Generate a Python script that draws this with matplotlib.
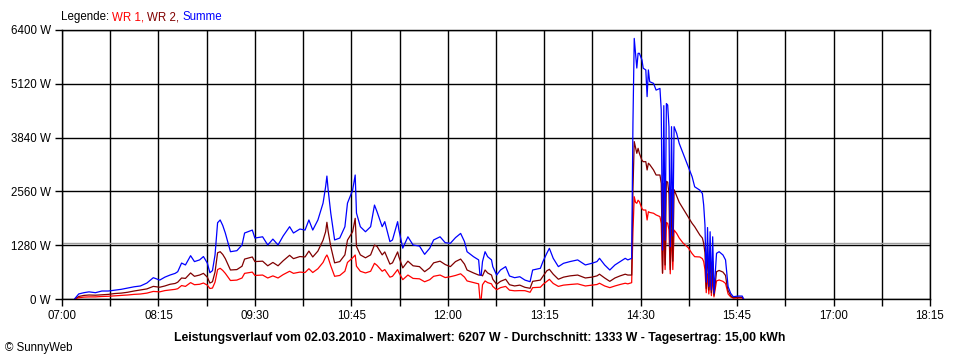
import numpy as np
import matplotlib.pyplot as plt

plt.rcParams['font.family'] = ['Liberation Sans', 'DejaVu Sans']

# Zeitpunkte (HH:MM) und Leistung in W
times = [
    "07:10", "07:13", "07:17", "07:21", "07:26", "07:31", "07:36", "07:41", "07:46", "07:51",
    "07:56", "08:01", "08:06", "08:11", "08:16", "08:20", "08:24", "08:28", "08:30", "08:33",
    "08:36", "08:40", "08:43", "08:47", "08:50", "08:53", "08:55", "08:57", "08:59", "09:01",
    "09:03", "09:05", "09:07", "09:11", "09:16", "09:20", "09:22", "09:28", "09:30", "09:36",
    "09:40", "09:44", "09:48", "09:52", "09:57", "10:00", "10:05", "10:09", "10:12", "10:15",
    "10:19", "10:23", "10:25", "10:26", "10:27", "10:29", "10:32", "10:36", "10:40", "10:42",
    "10:46", "10:48", "10:49", "10:52", "10:56", "11:00", "11:03", "11:05", "11:09", "11:11",
    "11:15", "11:17", "11:21", "11:22", "11:25", "11:29", "11:33", "11:38", "11:42", "11:46",
    "11:49", "11:54", "11:58", "12:02", "12:06", "12:10", "12:13", "12:15", "12:20", "12:24",
    "12:25", "12:26", "12:27", "12:29", "12:31", "12:34", "12:35", "12:38", "12:41", "12:45",
    "12:48", "12:52", "12:56", "13:00", "13:04", "13:06", "13:12", "13:14", "13:17", "13:19",
    "13:22", "13:26", "13:30", "13:35", "13:41", "13:47", "13:52", "13:56", "13:58", "14:02",
    "14:06", "14:10", "14:14", "14:18", "14:20", "14:23", "14:24", "14:25", "14:26", "14:27",
    "14:28", "14:29", "14:31", "14:32", "14:34", "14:35", "14:36", "14:37", "14:40", "14:42",
    "14:45", "14:46", "14:47", "14:48", "14:49", "14:50", "14:51", "14:52", "14:53", "14:54",
    "14:55", "14:56", "14:58", "15:00", "15:03", "15:07", "15:10", "15:12", "15:16", "15:18",
    "15:19", "15:20", "15:21", "15:22", "15:23", "15:24", "15:25", "15:26", "15:27", "15:29",
    "15:31", "15:34", "15:36", "15:37", "15:38", "15:40", "15:42", "15:46", "15:49", "15:50",
]

summe = [
    10, 120, 150, 170, 150, 190, 190, 210, 230, 260,
    290, 310, 380, 507, 450, 520, 570, 610, 650, 855,
    810, 1030, 890, 930, 1010, 855, 625, 675, 1047, 1815,
    1880, 1750, 1570, 1125, 1150, 1285, 1570, 1640, 1450, 1480,
    1285, 1425, 1285, 1500, 1720, 1570, 1665, 1640, 1880, 1640,
    1880, 2280, 2670, 2925, 2590, 2045, 1405, 1450, 1720, 2280,
    2590, 2950, 2045, 1720, 1600, 1720, 2235, 2075, 1720, 1840,
    1365, 1405, 1840, 1640, 1210, 1480, 1285, 1260, 1063, 1210,
    1405, 1480, 1340, 1325, 1460, 1560, 1365, 1125, 1007, 930,
    570, 570, 890, 1125, 1007, 930, 770, 570, 690, 770,
    547, 507, 530, 450, 412, 690, 730, 890, 1087, 1206,
    968, 770, 849, 890, 930, 810, 849, 890, 968, 810,
    690, 810, 890, 968, 930, 968, 4190, 6200, 5845, 5495,
    5845, 5845, 5686, 5490, 5450, 4815, 5450, 5170, 5130, 4970,
    5010, 4495, 1165, 4600, 1400, 4650, 4615, 4100, 1245, 4100,
    1500, 4100, 3940, 3700, 3465, 3147, 2910, 2670, 2590, 2510,
    2235, 1760, 400, 1700, 300, 1600, 214, 1480, 135, 1087,
    1125, 1047, 930, 610, 293, 135, 55, 70, 70, 0,
]

wr2 = [
    0, 60, 85, 95, 90, 100, 110, 130, 140, 160,
    190, 214, 240, 300, 280, 310, 350, 370, 400, 500,
    490, 620, 540, 570, 610, 520, 380, 410, 640, 1100,
    1125, 1060, 960, 690, 700, 780, 950, 1000, 890, 900,
    790, 870, 790, 910, 1040, 960, 1010, 1000, 1140, 1000,
    1140, 1400, 1600, 1825, 1600, 1250, 860, 890, 1050, 1400,
    1600, 1920, 1250, 1050, 980, 1050, 1285, 1250, 1050, 1120,
    830, 860, 1120, 1000, 740, 900, 790, 770, 650, 740,
    860, 900, 820, 770, 890, 950, 830, 690, 620, 570,
    570, 570, 550, 690, 620, 570, 470, 350, 420, 470,
    340, 310, 330, 278, 255, 420, 450, 540, 670, 706,
    590, 470, 520, 550, 570, 500, 520, 550, 590, 500,
    420, 500, 550, 590, 570, 570, 2600, 3745, 3600, 3466,
    3585, 3465, 3300, 3267, 3267, 3070, 3230, 3200, 3070, 2950,
    2950, 2750, 620, 2750, 810, 2800, 2780, 2500, 700, 2600,
    900, 2600, 2450, 2300, 2150, 1950, 1800, 1720, 1523, 1450,
    1325, 1100, 250, 1245, 214, 1100, 150, 900, 90, 650,
    680, 640, 560, 350, 200, 80, 30, 40, 40, 0,
]

wr1 = [
    0, 30, 45, 50, 50, 60, 65, 75, 85, 95,
    110, 119, 140, 180, 170, 200, 215, 230, 245, 320,
    300, 390, 340, 350, 380, 330, 250, 260, 400, 700,
    730, 680, 610, 440, 450, 500, 610, 640, 560, 570,
    500, 550, 500, 580, 660, 610, 640, 630, 720, 630,
    720, 870, 1000, 1047, 980, 790, 540, 560, 660, 870,
    980, 1047, 780, 660, 620, 660, 849, 800, 660, 700,
    520, 540, 700, 630, 460, 570, 490, 480, 410, 460,
    540, 570, 510, 530, 560, 600, 520, 430, 390, 360,
    0, 0, 340, 430, 390, 360, 300, 220, 270, 300,
    210, 195, 200, 198, 160, 270, 280, 345, 420, 468,
    370, 300, 330, 345, 360, 310, 330, 345, 375, 310,
    270, 310, 345, 375, 360, 388, 1600, 2434, 2300, 2277,
    2350, 2315, 2150, 2117, 2117, 1880, 2077, 2060, 2040, 2000,
    1960, 1800, 610, 1800, 700, 1820, 1800, 1650, 600, 1650,
    700, 1640, 1560, 1450, 1330, 1220, 1080, 1007, 1000, 960,
    890, 700, 150, 600, 120, 550, 80, 550, 50, 430,
    452, 420, 370, 250, 120, 50, 20, 25, 25, 0,
]

durchschnitt = 1333
x_labels = ["07:00", "08:15", "09:30", "10:45", "12:00", "13:15",
            "14:30", "15:45", "17:00", "18:15"]
y_values = [0, 1280, 2560, 3840, 5120, 6400]


def to_min(s):
    h, m = s.split(":")
    return (int(h) - 7) * 60 + int(m)


t = np.array([to_min(s) for s in times])

fig = plt.figure(figsize=(9.6, 3.6), dpi=100)
ax = fig.add_axes([62 / 960, 1 - 299 / 360, 868 / 960, 269 / 360])

ax.plot(t, wr1, color='#ff0000', lw=0.9, zorder=3)
ax.plot(t, wr2, color='#800000', lw=0.9, zorder=3)
ax.plot(t, summe, color='#0000ff', lw=0.9, zorder=4)
ax.axhline(durchschnitt, color='#a0a0a0', lw=1.0, zorder=2)

ax.set_xlim(0, 675)
ax.set_ylim(0, 6400)

xt = np.arange(0, 675.1, 37.5)
ax.set_xticks(xt)
ax.set_xticklabels([x_labels[i // 2] if i % 2 == 0 else "" for i in range(len(xt))])
ax.set_yticks(y_values)
ax.set_yticklabels([f"{v} W" for v in y_values])
ax.tick_params(direction='out', length=5, width=1, color='black',
               labelsize=8.3, pad=3)
ax.grid(True, color='black', lw=1, zorder=1)
ax.set_axisbelow(True)
for sp in ax.spines.values():
    sp.set_color('black')
    sp.set_linewidth(1)

# Legende oben links, mehrfarbig, Teile nacheinander gesetzt
renderer = fig.canvas.get_renderer()
ly = 1 - 17 / 360
x_px = 61
for s, c in [("Legende:", 'black'), ("WR 1,", '#ff0000'),
             ("WR 2,", '#800000'), ("Summe", '#0000ff')]:
    txt = fig.text(x_px / 960, ly, s, color=c, fontsize=8.3, ha='left', va='center')
    x_px += txt.get_window_extent(renderer).width + 3

fig.text(0.5, 1 - 338 / 360,
         "Leistungsverlauf vom 02.03.2010 - Maximalwert: 6207 W - "
         "Durchschnitt: 1333 W - Tagesertrag: 15,00 kWh",
         ha='center', va='center', fontsize=8.8, fontweight='bold')
fig.text(5 / 960, 1 - 348 / 360, "© SunnyWeb", fontsize=8.3, ha='left', va='center')

fig.savefig('out.png', dpi=100)
